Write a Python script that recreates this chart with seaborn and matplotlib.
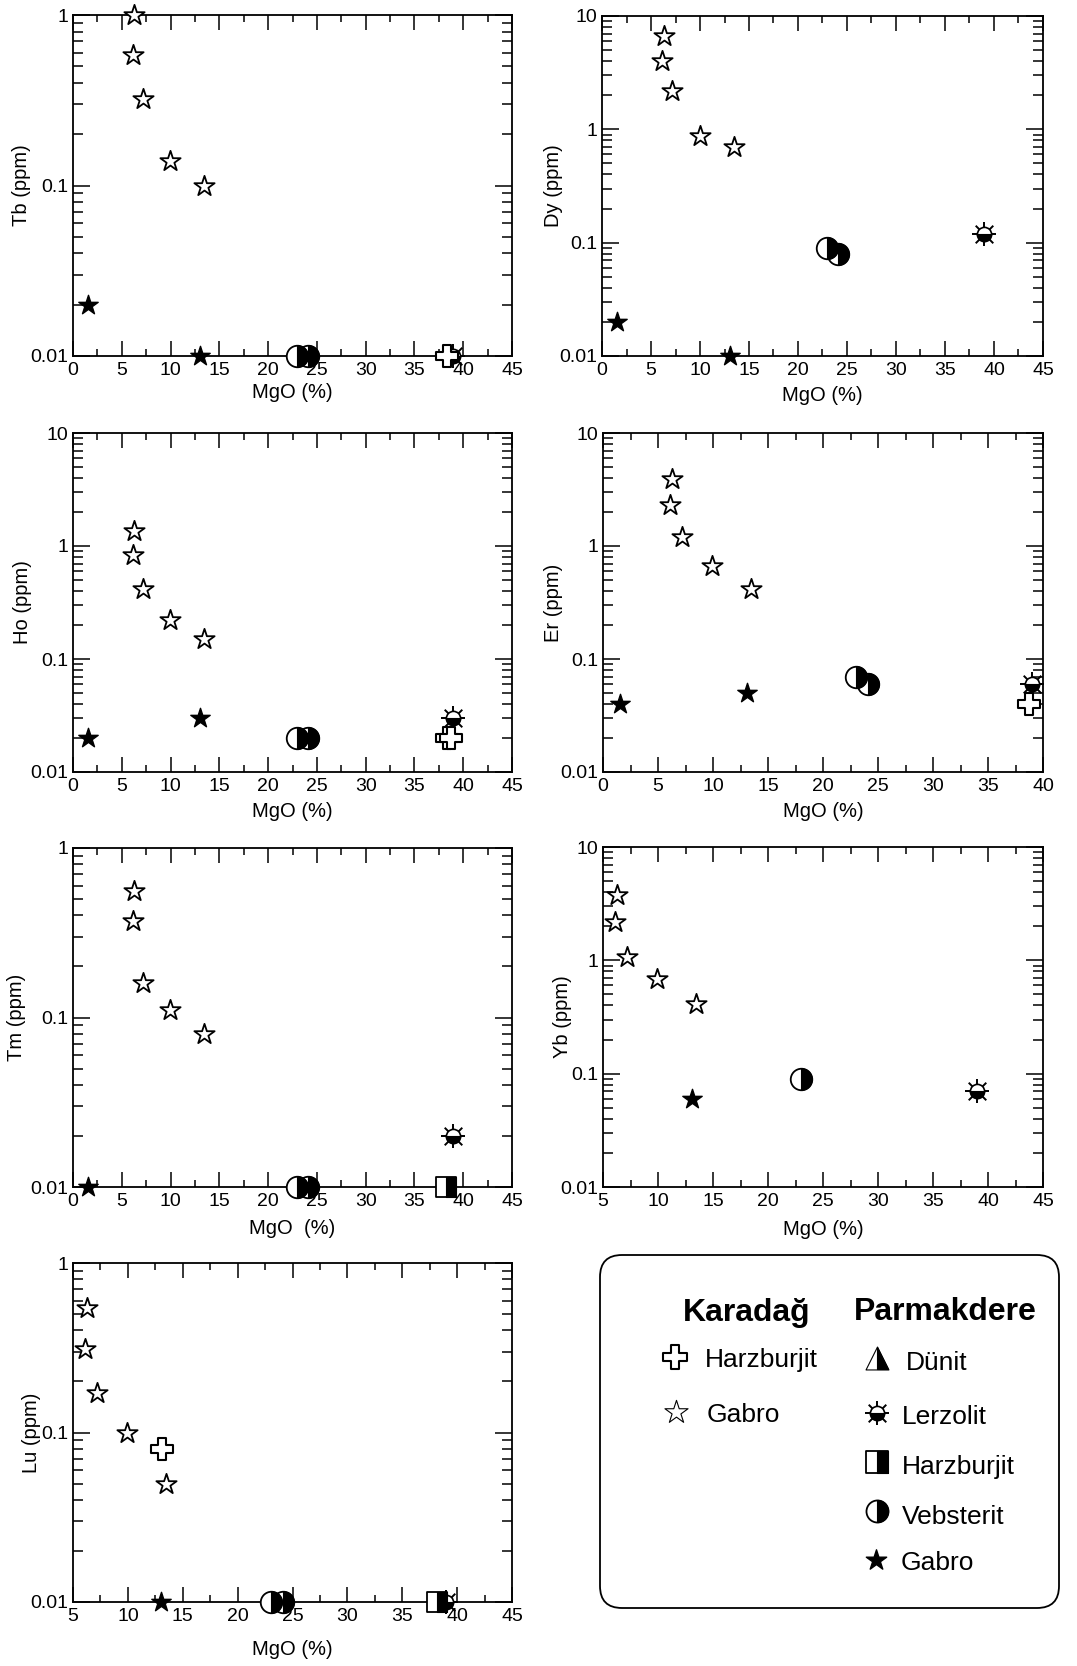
import numpy as np
import pandas as pd
import matplotlib
matplotlib.use("Agg")
import matplotlib.pyplot as plt
from matplotlib.markers import MarkerStyle
from matplotlib.patches import FancyBboxPatch
from matplotlib.ticker import MultipleLocator, LogLocator, FuncFormatter, NullFormatter
import seaborn as sns

sns.set_style("ticks", rc={
    "axes.edgecolor": "black", "text.color": "black", "axes.labelcolor": "black",
    "xtick.color": "black", "ytick.color": "black",
})
plt.rcParams["font.family"] = ["Liberation Sans", "DejaVu Sans"]

nan = np.nan

# ---- sample table (one entry per sample) -------------------------------
group = ["kar_gabro"] * 5 + ["par_gabro"] * 2 + ["vebsterit"] * 2 + \
        ["lerzolit"] + ["par_harz"] + ["kar_harz"] * 3
mgo = [6.3, 6.13, 7.15, 9.95, 13.45,
       1.55, 13.05,
       24.1, 23.0,
       39.0,
       38.2,
       38.3, 38.7, 13.15]
tb = [1.0, 0.58, 0.32, 0.14, 0.10,
      0.02, 0.01,
      0.01, 0.01,
      0.01,
      nan,
      0.01, nan, nan]
dy = [6.6, 4.0, 2.2, 0.87, 0.70,
      0.02, 0.01,
      0.08, 0.09,
      0.12,
      nan,
      nan, nan, nan]
ho = [1.36, 0.83, 0.42, 0.22, 0.15,
      0.02, 0.03,
      0.02, 0.02,
      0.03,
      nan,
      0.02, 0.02, nan]
er = [3.9, 2.3, 1.2, 0.67, 0.42,
      0.04, 0.05,
      0.06, 0.07,
      0.06,
      nan,
      nan, 0.04, nan]
tm = [0.56, 0.37, 0.16, 0.11, 0.08,
      0.01, nan,
      0.01, 0.01,
      0.02,
      0.01,
      nan, nan, nan]
yb = [3.75, 2.2, 1.07, 0.69, 0.415,
      nan, 0.06,
      nan, 0.09,
      0.07,
      nan,
      nan, nan, nan]
lu = [0.54, 0.31, 0.17, 0.10, 0.05,
      nan, 0.01,
      0.01, 0.01,
      0.01,
      0.01,
      nan, nan, 0.08]

elements = ["Tb", "Dy", "Ho", "Er", "Tm", "Yb", "Lu"]
x_limits = [(0, 45), (0, 45), (0, 45), (0, 40), (0, 45), (5, 45), (5, 45)]
y_limits = [(0.01, 1), (0.01, 10), (0.01, 10), (0.01, 10), (0.01, 1), (0.01, 10), (0.01, 1)]
x_titles = ["MgO (%)", "MgO (%)", "MgO (%)", "MgO (%)", "MgO  (%)", "MgO (%)", "MgO (%)"]

df = pd.DataFrame({"group": group, "MgO": mgo, "Tb": tb, "Dy": dy, "Ho": ho,
                   "Er": er, "Tm": tm, "Yb": yb, "Lu": lu})

# ---- layout (pixels of the 1077 x 1666 canvas) --------------------------
W, H = 1077, 1666
fig = plt.figure(figsize=(W / 100, H / 100), dpi=100)
fig.patch.set_facecolor("white")

panel_boxes = {               # left, top, right, bottom
    "Tb": (73, 15, 512, 356),
    "Dy": (602, 16, 1043, 356),
    "Ho": (73, 433, 512, 772),
    "Er": (603, 433, 1043, 772),
    "Tm": (73, 848, 512, 1187),
    "Yb": (603, 847, 1043, 1187),
    "Lu": (73, 1263, 512, 1602),
}
ylabel_x = {"Tb": -0.095, "Dy": -0.088, "Ho": -0.093, "Er": -0.09,
            "Tm": -0.106, "Yb": -0.07, "Lu": -0.074}
xlabel_y = {"Tb": -0.078, "Dy": -0.088, "Ho": -0.088, "Er": -0.088,
            "Tm": -0.095, "Yb": -0.096, "Lu": -0.112}


def px_axes(l, t, r, b):
    return fig.add_axes([l / W, 1 - b / H, (r - l) / W, (b - t) / H])


def sc(ax, x, y, **kw):
    sns.scatterplot(x=x, y=y, ax=ax, legend=False, clip_on=False, **kw)


def draw_kind(ax, x, y, kind, k=1.0, z=3):
    """Draw one rock-type symbol at the given positions (k scales the size)."""
    x = np.asarray(x, float)
    y = np.asarray(y, float)
    ok = ~np.isnan(y)
    x, y = x[ok], y[ok]
    if len(x) == 0:
        return
    if kind == "kar_gabro":
        sc(ax, x, y, marker="*", s=235 * k, color="white", edgecolor="black",
           linewidth=1.3, zorder=z)
    elif kind == "kar_gabro_thin":
        sc(ax, x, y, marker="*", s=235 * k, color="white", edgecolor="black",
           linewidth=0.8, zorder=z)
    elif kind == "par_gabro":
        sc(ax, x, y, marker="*", s=215 * k, color="black", edgecolor="black",
           linewidth=1.0, zorder=z)
    elif kind == "vebsterit":
        for i in range(len(x)):
            sc(ax, x[i:i + 1], y[i:i + 1], marker="o", s=240 * k, color="white",
               edgecolor="black", linewidth=1.3, zorder=z + 0.1 * i)
            sc(ax, x[i:i + 1], y[i:i + 1], marker=MarkerStyle("o", fillstyle="right"),
               s=240 * k, color="black", edgecolor="black", linewidth=0.8,
               zorder=z + 0.1 * i + 0.05)
    elif kind == "lerzolit":
        sc(ax, x, y, marker="+", s=320 * k, color="black", linewidth=1.4, zorder=z)
        sc(ax, x, y, marker="x", s=160 * k, color="black", linewidth=1.4, zorder=z)
        sc(ax, x, y, marker="o", s=105 * k, color="white", edgecolor="black",
           linewidth=1.2, zorder=z + 0.01)
        sc(ax, x, y, marker=MarkerStyle("o", fillstyle="bottom"), s=105 * k,
           color="black", edgecolor="black", linewidth=0.8, zorder=z + 0.02)
    elif kind == "par_harz":
        sc(ax, x, y, marker="s", s=210 * k, color="white", edgecolor="black",
           linewidth=1.3, zorder=z)
        sc(ax, x, y, marker=MarkerStyle("s", fillstyle="right"), s=210 * k,
           color="black", edgecolor="black", linewidth=0.8, zorder=z + 0.01)
    elif kind == "kar_harz":
        sc(ax, x, y, marker="P", s=256 * k, color="white", edgecolor="black",
           linewidth=1.5, zorder=z)
    elif kind == "dunit":
        sc(ax, x, y, marker="^", s=272 * k, color="white", edgecolor="black",
           linewidth=0.8, zorder=z)
        sc(ax, x, y, marker=MarkerStyle("^", fillstyle="right"), s=272 * k,
           color="black", edgecolor="black", linewidth=0.8, zorder=z + 0.01)


draw_order = [("kar_gabro", 3), ("par_gabro", 3), ("vebsterit", 4),
              ("lerzolit", 5), ("par_harz", 6), ("kar_harz", 7)]

for elem, xl, yl, xt in zip(elements, x_limits, y_limits, x_titles):
    ax = px_axes(*panel_boxes[elem])
    ax.set_facecolor("white")
    for kind, z in draw_order:
        sub = df[df["group"] == kind]
        draw_kind(ax, sub["MgO"], sub[elem], kind, z=z)

    ax.set_yscale("log")
    ax.set_xlim(*xl)
    ax.set_ylim(*yl)
    ax.xaxis.set_major_locator(MultipleLocator(5))
    ax.xaxis.set_minor_locator(MultipleLocator(2.5))
    ax.yaxis.set_major_locator(LogLocator(base=10, numticks=15))
    ax.yaxis.set_minor_locator(LogLocator(base=10, subs=np.arange(2, 10), numticks=15))
    ax.yaxis.set_major_formatter(FuncFormatter(lambda v, p: f"{v:g}"))
    ax.yaxis.set_minor_formatter(NullFormatter())
    ax.xaxis.set_major_formatter(FuncFormatter(lambda v, p: f"{v:g}"))

    ax.tick_params(which="both", direction="in", top=True, right=True,
                   width=1.1, color="black", labelsize=14)
    ax.tick_params(axis="x", which="both", pad=4.5)
    ax.tick_params(axis="y", which="both", pad=3.5)
    ax.tick_params(axis="x", which="major", length=11)
    ax.tick_params(axis="x", which="minor", length=5)
    ax.tick_params(axis="y", which="major", length=12)
    ax.tick_params(axis="y", which="minor", length=7)
    for sp in ax.spines.values():
        sp.set_linewidth(1.3)
        sp.set_color("black")

    ax.set_xlabel(xt, fontsize=14.5)
    ax.set_ylabel(f"{elem} (ppm)", fontsize=14.5)
    ax.xaxis.set_label_coords(0.5, xlabel_y[elem])
    ax.yaxis.set_label_coords(ylabel_x[elem], 0.5)

# ---- legend panel -------------------------------------------------------
lg = px_axes(598, 1253, 1061, 1610)
lg.set_xlim(598, 1061)
lg.set_ylim(1610, 1253)
lg.axis("off")
lg.add_patch(FancyBboxPatch((600, 1255), 459, 353,
                            boxstyle="round,pad=0,rounding_size=22",
                            facecolor="white", edgecolor="black", linewidth=1.3,
                            clip_on=False, zorder=1))

lg.text(746.7, 1321, "Karadağ", ha="center", va="baseline",
        fontsize=23, fontweight="bold", zorder=2)
lg.text(945, 1320, "Parmakdere", ha="center", va="baseline",
        fontsize=23, fontweight="bold", zorder=2)

legend_rows = [
    # kind, symbol x, symbol y, label, text x, baseline y, size factor
    ("kar_harz", 675, 1357, "Harzburjit", 705, 1366.5, 1.1),
    ("kar_gabro_thin", 676, 1412, "Gabro", 706.5, 1422.5, 1.3),
    ("dunit", 877, 1358, "Dünit", 906, 1370, 1.0),
    ("lerzolit", 877, 1413, "Lerzolit", 902, 1424, 1.0),
    ("par_harz", 877, 1462, "Harzburjit", 902, 1474, 1.3),
    ("vebsterit", 877, 1511, "Vebsterit", 902, 1524, 1.05),
    ("par_gabro", 876, 1560, "Gabro", 901, 1570.5, 1.1),
]
for kind, sx, sy, label, tx, ty, k in legend_rows:
    draw_kind(lg, [sx], [sy], kind, k=k, z=3)
    lg.text(tx, ty, label, ha="left", va="baseline", fontsize=19, zorder=3)

fig.savefig("out.png", dpi=100, facecolor="white")
